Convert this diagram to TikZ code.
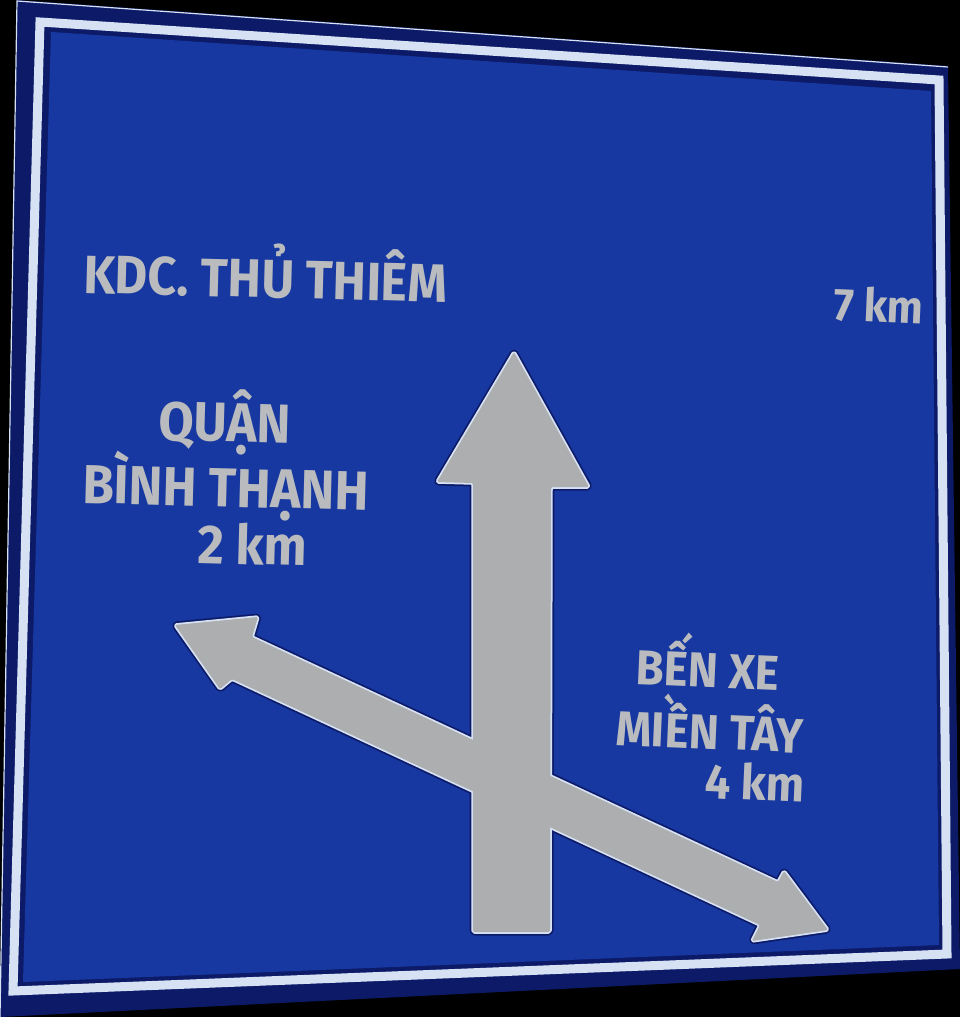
\documentclass[tikz,border=0pt]{standalone}
\usepackage{fontspec}
\setmainfont{Fira Sans}[FakeStretch=0.93]
\usetikzlibrary{positioning}

\definecolor{signblue}{RGB}{22,56,160}
\definecolor{navy}{RGB}{12,26,104}
\definecolor{rimwhite}{RGB}{214,226,244}
\definecolor{arrowgray}{RGB}{172,174,176}
\definecolor{textgray}{RGB}{186,187,190}

\begin{document}
\begin{tikzpicture}[
    x=1pt, y=-1pt,
    big/.style={text=textgray, inner sep=0pt, anchor=base west, rotate=-1.5, font=\bfseries\fontsize{55}{60}\selectfont},
    small/.style={big, rotate=-1, font=\bfseries\fontsize{49}{54}\selectfont},
    halo/.style={draw=navy, line width=7pt, line join=round},
    rim/.style={draw=rimwhite, line width=3.5pt, line join=round},
    body/.style={fill=arrowgray},
]

% background and sign plate
\fill[black] (0,0) rectangle (960,1017);
\useasboundingbox (0,0) rectangle (960,1017);
\fill[navy] (17,0) -- (948,66) -- (960,969) -- (0,1017) -- cycle;
\draw[rimwhite, line width=1.2pt] (0,1017) -- (17,1) -- (948,67);
\draw[rimwhite, line width=9pt] (40,22) -- (939,80) -- (947,954) -- (13,991) -- cycle;
\fill[signblue] (51,32) -- (931,91) -- (939,945) -- (23,982) -- cycle;

% arrow outlines
\def\uparrow{(514,352) -- (589,487) -- (551,487) -- (550,932) -- (473,932) -- (473,483) -- (437,482) -- cycle}
\def\crossarrow{(175,625) -- (258,617) -- (252,637) -- (778,882) -- (784,871) -- (828,930) -- (752,941) -- (760,925) -- (232,679) -- (220,689) -- cycle}
\foreach \sty in {halo, rim, body}{
    \path[\sty, rounded corners=1.5pt] \uparrow;
    \path[\sty, rounded corners=1.5pt] \crossarrow;
}

% destinations
\node[big, font=\bfseries\fontsize{54}{60}\selectfont] (kdc) at (83,293) {KDC. THỦ THIÊM};
\node[small, font=\bfseries\fontsize{46}{52}\selectfont] (sevenkm) at (833,320) {7 km};
\node[big] (quan) at (158,440) {QUẬN};
\node[big] (binhthanh) at (82,503) {BÌNH THẠNH};
\node[big] (twokm) at (197,563) {2 km};
\node[small] (benxe) at (635,684) {BẾN XE};
\node[small] (mientay) at (615,745) {MIỀN TÂY};
\node[small] (fourkm) at (704,798) {4 km};

\end{tikzpicture}
\end{document}
